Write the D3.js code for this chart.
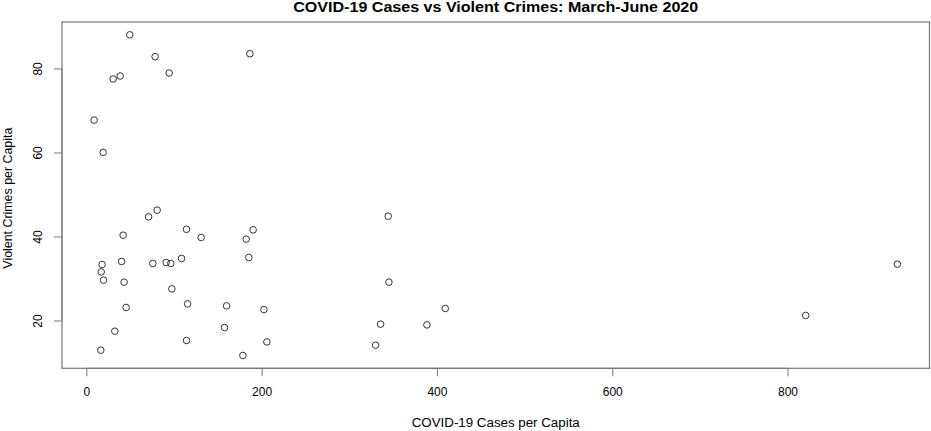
<!DOCTYPE html>
<html>
<head>
<meta charset="utf-8">
<script src="https://cdn.jsdelivr.net/npm/d3@7"></script>
<style>
  body { margin: 0; background: #fff; }
  svg { display: block; }
  text { font-family: "Liberation Sans", Arial, Helvetica, sans-serif; fill: #000; }
</style>
</head>
<body>
<svg id="chart" width="931" height="431"></svg>
<script>
const covidCases = [
  49.6, 78.5, 186.6, 30.6, 38.6, 94.5, 8.9, 19.2,
  71.0, 80.8, 42.0, 114.3, 131.0, 182.4, 190.3, 185.4, 18.0, 16.9, 19.6, 40.2,
  43.1, 75.9, 91.1, 96.4, 108.6, 97.6, 45.4, 115.5, 160.0, 202.6, 32.5, 157.7,
  16.5, 114.3, 178.6, 206.0,
  344.4, 345.2, 409.5, 335.7, 388.6, 330.0,
  925.3, 820.7
];
const violentCrimes = [
  88.0, 82.8, 83.5, 77.5, 78.2, 78.9, 67.7, 60.0,
  44.67, 46.26, 40.3, 41.7, 39.76, 39.36, 41.57, 35.0, 33.33, 31.57, 29.6, 34.05,
  29.12, 33.57, 33.8, 33.57, 34.76, 27.52, 23.1, 23.95, 23.48, 22.6, 17.45, 18.33,
  12.93, 15.24, 11.67, 14.9,
  44.83, 29.12, 22.86, 19.12, 18.95, 14.12,
  33.4, 21.2
];
const xTicks = [0, 200, 400, 600, 800];
const yTicks = [20, 40, 60, 80];
const titleText = "COVID-19 Cases vs Violent Crimes: March-June 2020";
const xLabel = "COVID-19 Cases per Capita";
const yLabel = "Violent Crimes per Capita";

(function () {
const data = covidCases.map((c, i) => ({ x: c, y: violentCrimes[i] }));

const svg = d3.select("#chart");
const pL = 62, pR = 929.5, pT = 22, pB = 368.3;

function rPad(ext) {
  const d = (ext[1] - ext[0]) * 0.04;
  return [ext[0] - d, ext[1] + d];
}
const x = d3.scaleLinear().domain(rPad(d3.extent(covidCases))).range([pL, pR]);
const y = d3.scaleLinear().domain(rPad(d3.extent(violentCrimes))).range([pB, pT]);

// Box
svg.append("rect")
  .attr("x", pL).attr("y", pT)
  .attr("width", pR - pL).attr("height", pB - pT)
  .attr("fill", "none").attr("stroke", "#777").attr("stroke-width", 1.2);

// X axis
const xAxis = svg.append("g").attr("transform", `translate(0,${pB})`)
  .call(d3.axisBottom(x).tickValues(xTicks).tickSize(8).tickPadding(11).tickFormat(d3.format("d")));
xAxis.select(".domain").attr("stroke", "#777").attr("d", `M${x(xTicks[0])},0H${x(xTicks[xTicks.length-1])}`);
xAxis.selectAll(".tick line").attr("stroke", "#777");
xAxis.selectAll(".tick text").attr("font-size", 12).attr("font-family", "Liberation Sans, Arial, sans-serif").attr("fill", "#000");

// Y axis
const yAxis = svg.append("g").attr("transform", `translate(${pL},0)`)
  .call(d3.axisLeft(y).tickValues(yTicks).tickSize(8).tickFormat(d3.format("d")));
yAxis.select(".domain").attr("stroke", "#777").attr("d", `M0,${y(yTicks[0])}V${y(yTicks[yTicks.length-1])}`);
yAxis.selectAll(".tick line").attr("stroke", "#777");
yAxis.selectAll(".tick text")
  .attr("font-size", 12).attr("font-family", "Liberation Sans, Arial, sans-serif").attr("fill", "#000")
  .attr("x", null).attr("dy", null)
  .attr("text-anchor", "middle")
  .attr("transform", "translate(-24,0) rotate(-90)")
  .attr("dominant-baseline", "central");

// Points
svg.append("g").selectAll("circle").data(data).join("circle")
  .attr("cx", d => x(d.x)).attr("cy", d => y(d.y))
  .attr("r", 3.3)
  .attr("fill", "none").attr("stroke", "#333").attr("stroke-width", 1);

const cx = (pL + pR) / 2;
// Title
svg.append("text")
  .attr("x", cx).attr("y", 12.3)
  .attr("text-anchor", "middle").attr("font-weight", "bold").attr("font-size", 14)
  .attr("textLength", 405).attr("lengthAdjust", "spacingAndGlyphs")
  .text(titleText);

// Axis labels
svg.append("text")
  .attr("x", cx).attr("y", 426.5)
  .attr("text-anchor", "middle").attr("font-size", 12)
  .attr("textLength", 168).attr("lengthAdjust", "spacingAndGlyphs")
  .text(xLabel);

svg.append("text")
  .attr("transform", `translate(12,${(pT + pB) / 2 + 3}) rotate(-90)`)
  .attr("text-anchor", "middle").attr("font-size", 12)
  .attr("textLength", 141).attr("lengthAdjust", "spacingAndGlyphs")
  .text(yLabel);
})();
</script>
</body>
</html>
